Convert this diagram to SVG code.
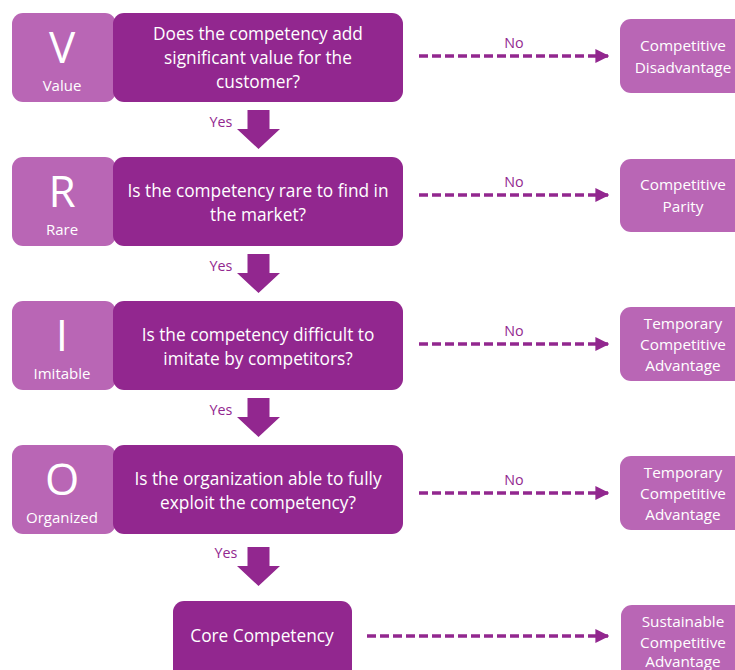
<svg xmlns="http://www.w3.org/2000/svg" width="735" height="670" viewBox="0 0 735 670">
  <style>
    .dark { fill: #92278f; }
    .light { fill: #b966b5; }
    text { font-family: "Open Sans", "Liberation Sans", sans-serif; fill: #ffffff; text-anchor: middle; }
    .letter { font-size: 44px; font-weight: 400; }
    .word { font-size: 15px; }
    .q { font-size: 17.3px; }
    .r { font-size: 15.3px; }
    .lbl { font-size: 14.3px; fill: #92278f; }
    .dash { stroke: #92278f; stroke-width: 3.5; stroke-dasharray: 9 4; fill: none; }
  </style>
  <defs>
    <marker id="head" viewBox="0 0 10 10" refX="9" refY="5" markerWidth="4" markerHeight="4" markerUnits="strokeWidth" orient="auto">
      <path d="M0,0 L10,5 L0,10 Z" fill="#92278f"/>
    </marker>
    <path id="blockArrow" d="M-11,0 H11 V19 H21.5 L0,39 L-21.5,19 H-11 Z" fill="#92278f"/>
  </defs>
  <rect width="735" height="670" fill="#ffffff"/>

  <!-- Row 1: Value -->
  <g id="value-letter">
    <rect class="light" x="12" y="13" width="104" height="89" rx="11"/>
    <text class="letter" x="62" y="63">V</text>
    <text class="word" x="62" y="91">Value</text>
  </g>
  <g id="value-question">
    <rect class="dark" x="113" y="13" width="290" height="89" rx="11"/>
    <text class="q" x="258" y="40">Does the competency add</text>
    <text class="q" x="258" y="64">significant value for the</text>
    <text class="q" x="258" y="88">customer?</text>
  </g>
  <g id="value-outcome">
    <rect class="light" x="620" y="19" width="126" height="74" rx="11"/>
    <text class="r" x="683" y="51">Competitive</text>
    <text class="r" x="683" y="73">Disadvantage</text>
  </g>

  <!-- Row 2: Rare -->
  <g id="rare-letter">
    <rect class="light" x="12" y="157" width="104" height="89" rx="11"/>
    <text class="letter" x="62" y="207">R</text>
    <text class="word" x="62" y="235">Rare</text>
  </g>
  <g id="rare-question">
    <rect class="dark" x="113" y="157" width="290" height="89" rx="11"/>
    <text class="q" x="258" y="197">Is the competency rare to find in</text>
    <text class="q" x="258" y="221">the market?</text>
  </g>
  <g id="rare-outcome">
    <rect class="light" x="620" y="159" width="126" height="73" rx="11"/>
    <text class="r" x="683" y="190">Competitive</text>
    <text class="r" x="683" y="212">Parity</text>
  </g>

  <!-- Row 3: Imitable -->
  <g id="imitable-letter">
    <rect class="light" x="12" y="301" width="104" height="89" rx="11"/>
    <text class="letter" x="62" y="351">I</text>
    <text class="word" x="62" y="379">Imitable</text>
  </g>
  <g id="imitable-question">
    <rect class="dark" x="113" y="301" width="290" height="89" rx="11"/>
    <text class="q" x="258" y="341">Is the competency difficult to</text>
    <text class="q" x="258" y="365">imitate by competitors?</text>
  </g>
  <g id="imitable-outcome">
    <rect class="light" x="620" y="307" width="126" height="74" rx="11"/>
    <text class="r" x="683" y="329">Temporary</text>
    <text class="r" x="683" y="350">Competitive</text>
    <text class="r" x="683" y="371">Advantage</text>
  </g>

  <!-- Row 4: Organized -->
  <g id="organized-letter">
    <rect class="light" x="12" y="445" width="104" height="89" rx="11"/>
    <text class="letter" x="62" y="495">O</text>
    <text class="word" x="62" y="523">Organized</text>
  </g>
  <g id="organized-question">
    <rect class="dark" x="113" y="445" width="290" height="89" rx="11"/>
    <text class="q" x="258" y="485">Is the organization able to fully</text>
    <text class="q" x="258" y="509">exploit the competency?</text>
  </g>
  <g id="organized-outcome">
    <rect class="light" x="620" y="456" width="126" height="74" rx="11"/>
    <text class="r" x="683" y="478">Temporary</text>
    <text class="r" x="683" y="499">Competitive</text>
    <text class="r" x="683" y="520">Advantage</text>
  </g>

  <!-- Result -->
  <g id="core-competency">
    <rect class="dark" x="173" y="601" width="179" height="80" rx="11"/>
    <text class="q" x="262" y="642">Core Competency</text>
  </g>
  <g id="sustainable-outcome">
    <rect class="light" x="621" y="605" width="126" height="80" rx="11"/>
    <text class="r" x="683" y="627">Sustainable</text>
    <text class="r" x="683" y="648">Competitive</text>
    <text class="r" x="683" y="667">Advantage</text>
  </g>

  <!-- Connectors -->
  <g id="connectors">
    <use href="#blockArrow" x="258.5" y="110"/>
    <use href="#blockArrow" x="258.5" y="254"/>
    <use href="#blockArrow" x="258.5" y="398"/>
    <use href="#blockArrow" x="258.5" y="547"/>
    <text class="lbl" x="221" y="127">Yes</text>
    <text class="lbl" x="221" y="271">Yes</text>
    <text class="lbl" x="221" y="415">Yes</text>
    <text class="lbl" x="226" y="558">Yes</text>

    <line class="dash" x1="419" y1="56" x2="608" y2="56" marker-end="url(#head)"/>
    <line class="dash" x1="419" y1="195" x2="608" y2="195" marker-end="url(#head)"/>
    <line class="dash" x1="419" y1="344" x2="608" y2="344" marker-end="url(#head)"/>
    <line class="dash" x1="419" y1="493" x2="608" y2="493" marker-end="url(#head)"/>
    <line class="dash" x1="367" y1="636" x2="608" y2="636" marker-end="url(#head)"/>
    <text class="lbl" x="514" y="48">No</text>
    <text class="lbl" x="514" y="187">No</text>
    <text class="lbl" x="514" y="336">No</text>
    <text class="lbl" x="514" y="485">No</text>
  </g>
</svg>
